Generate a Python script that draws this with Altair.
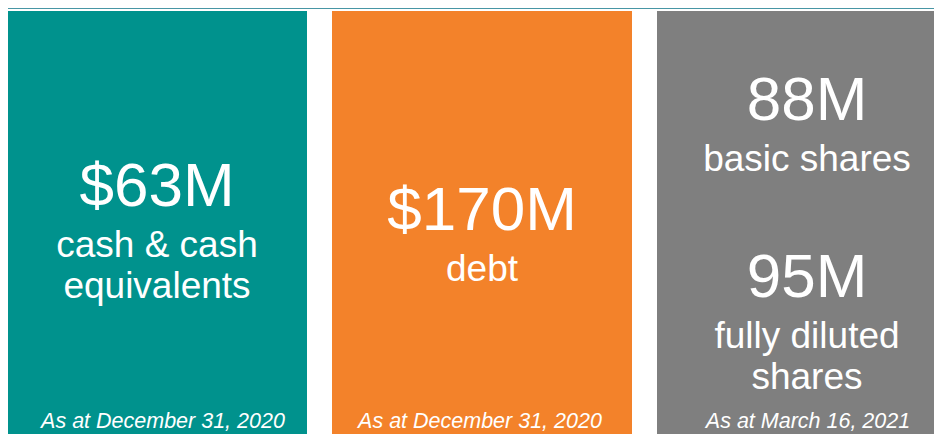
import altair as alt
import pandas as pd

# ---- data ----
panels = ["cash", "debt", "shares"]
panel_colors = ["#00928D", "#F3822A", "#7F7F7F"]
headline_values = [["$63M"], ["$170M"], ["88M", "95M"]]
headline_labels = [
    [["cash & cash", "equivalents"]],
    [["debt"]],
    [["basic shares"], ["fully diluted", "shares"]],
]
footers = ["As at December 31, 2020", "As at December 31, 2020", "As at March 16, 2021"]

W, H = 926, 426

# ---- layout (computed here, not in the data arrays) ----
block_start = {"cash": [198], "debt": [222], "shares": [112, 289]}
footer_shift = {"cash": 6, "debt": -2, "shares": 1}
BIG_TO_LABEL = 51
LABEL_STEP = 41
FOOTER_Y = 420

rows = []
for p, vals, labs in zip(panels, headline_values, headline_labels):
    for b, (v, lab_lines) in enumerate(zip(vals, labs)):
        y0 = block_start[p][b]
        rows.append({"panel": p, "text": v, "kind": "big", "ypix": y0})
        for i, line in enumerate(lab_lines):
            rows.append({"panel": p, "text": line, "kind": "label",
                         "ypix": y0 + BIG_TO_LABEL + i * LABEL_STEP})
for p, f in zip(panels, footers):
    rows.append({"panel": p, "text": f, "kind": "footer", "ypix": FOOTER_Y})
texts = pd.DataFrame(rows)
boxes = pd.DataFrame({"panel": panels, "color": panel_colors})

xscale = alt.Scale(domain=panels, range=[-1, 949], paddingInner=25 / 325, paddingOuter=0)
xenc = alt.X("panel:N", scale=xscale, axis=None, sort=panels)

rects = alt.Chart(boxes).mark_rect().encode(
    x=xenc,
    y=alt.value(3),
    y2=alt.value(H + 20),
    color=alt.Color("color:N", scale=None),
)

topline = alt.Chart(pd.DataFrame({"a": [0]})).mark_rule(
    color="#4896A5", strokeWidth=2
).encode(x=alt.value(-1), x2=alt.value(W), y=alt.value(0))

def text_layer(kind, size, style="normal", panel=None, dx=0):
    base = alt.Chart(texts).transform_filter(alt.datum.kind == kind)
    if panel is not None:
        base = base.transform_filter(alt.datum.panel == panel)
    return base.mark_text(
        font="Liberation Sans", fontSize=size, fontStyle=style,
        color="white", align="center", baseline="alphabetic", dx=dx,
    ).encode(
        x=xenc,
        y=alt.Y("ypix:Q", scale=None, axis=None),
        text="text:N",
    )

footer_layers = [text_layer("footer", 21.5, "italic", p, footer_shift[p]) for p in panels]

chart = alt.layer(
    rects,
    topline,
    text_layer("big", 62),
    text_layer("label", 37),
    *footer_layers,
).properties(
    width=W, height=H, padding=0, autosize=alt.AutoSizeParams(type="none")
).configure_view(stroke=None)

chart.save("out.html", embed_options={"renderer": "svg", "actions": False})
